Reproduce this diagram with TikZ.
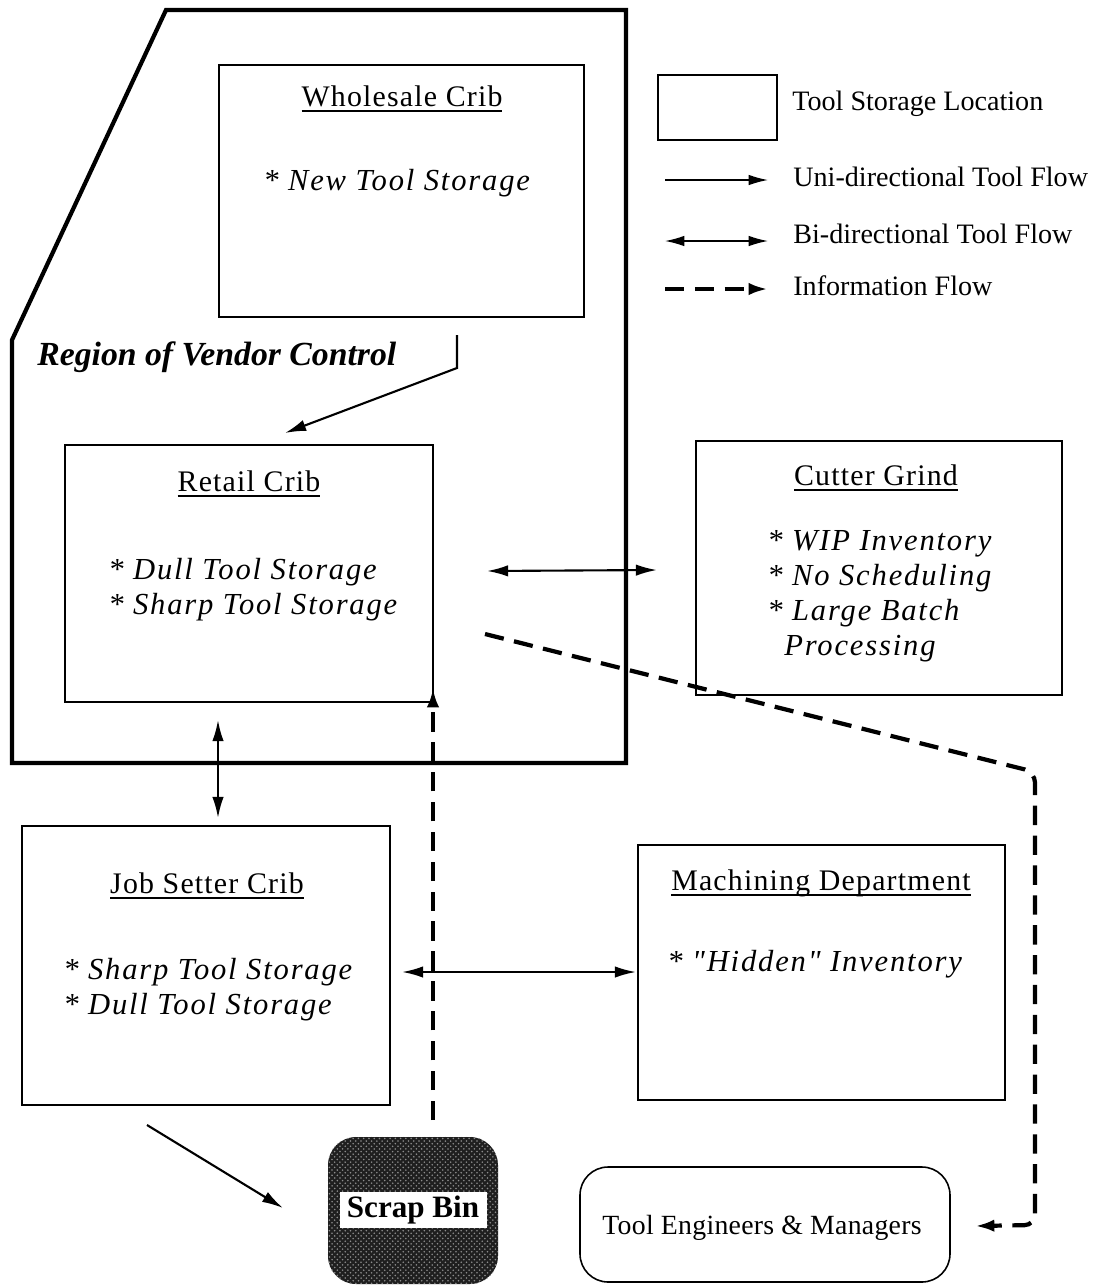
\documentclass[tikz,border=0pt]{standalone}
\usepackage{fontspec}
\setmainfont{Liberation Serif}
\newfontfamily\headfont[LetterSpace=4]{Liberation Serif}
\newfontfamily\itemfont[LetterSpace=6]{Liberation Serif}
\usetikzlibrary{arrows.meta,fit,patterns}
% heading with a heavier underline
\newcommand\hul[1]{\setbox0\hbox{#1}\rlap{\rule[-3.2pt]{\wd0}{0.9pt}}\box0}

\begin{document}
\begin{tikzpicture}[x=0.02cm,y=-0.02cm,
  crib/.style={draw, line width=0.9pt, inner sep=0pt},
  head/.style={font=\headfont\fontsize{17}{20}\selectfont, inner sep=0pt, anchor=base},
  item/.style={font=\itemfont\itshape\fontsize{17.4}{20}\selectfont, inner sep=0pt, anchor=base west},
  legtext/.style={font=\fontsize{16}{19}\selectfont, inner sep=0pt, anchor=base west},
  flow/.style={line width=1.2pt, -{Latex[length=12pt,width=6.5pt]}},
  biflow/.style={line width=1.2pt, {Latex[length=12pt,width=6.5pt]}-{Latex[length=12pt,width=6.5pt]}},
  info/.style={line width=2.4pt, dash pattern=on 11pt off 6pt, -{Latex[length=11pt,width=7pt]}},
]
\path[fill=white, use as bounding box] (0,0) rectangle (1104,1286);

% region of vendor control
\draw[line width=2.4pt, line join=miter] (166,10) -- (626,10) -- (626,763) -- (12,763) -- (12,340) -- cycle;
\node[font=\bfseries\itshape\fontsize{19.2}{22}\selectfont, inner sep=0pt, anchor=base west] (region) at (37,365) {Region of Vendor Control};

% tool storage locations
\node[crib, fit={(219,65)(584,317)}] (whole) {};
\node[head] (wholeT) at (402,106) {\hul{Wholesale Crib}};
\node[item] (wholeI) at (263,190) {* New Tool Storage};

\node[crib, fit={(65,445)(433,702)}] (retail) {};
\node[head] (retailT) at (249,491) {\hul{Retail Crib}};
\node[item] (retailI1) at (108,579) {* Dull Tool Storage};
\node[item] (retailI2) at (108,614) {* Sharp Tool Storage};

\node[crib, fit={(696,441)(1062,695)}] (cutter) {};
\node[head] (cutterT) at (876,485) {\hul{Cutter Grind}};
\node[item] (cutterI1) at (767,550) {* WIP Inventory};
\node[item] (cutterI2) at (767,585) {* No Scheduling};
\node[item] (cutterI3) at (767,620) {* Large Batch};
\node[item] (cutterI4) at (784,655) {Processing};

\node[crib, fit={(22,826)(390,1105)}] (jobset) {};
\node[head] (jobsetT) at (207,893) {\hul{Job Setter Crib}};
\node[item] (jobsetI1) at (63,979) {* Sharp Tool Storage};
\node[item] (jobsetI2) at (63,1014) {* Dull Tool Storage};

\node[crib, fit={(638,845)(1005,1100)}] (machine) {};
\node[head] (machineT) at (821,890) {\hul{Machining Department}};
\node[item] (machineI) at (667,971) {* "Hidden" Inventory};

% scrap bin: dark speckled rounded block with a white label
\node[fill=black!88, rounded corners=16pt, fit={(328,1137)(498,1284)}, inner sep=0pt] (scrap) {};
\path[pattern=crosshatch dots, pattern color=black!45, rounded corners=16pt] (scrap.north west) rectangle (scrap.south east);
\node[fill=white, inner sep=0pt, minimum width=147*0.02cm, minimum height=36*0.02cm,
      font=\bfseries\fontsize{17.7}{20}\selectfont] (scrapT) at (413,1210) {Scrap Bin};

% tool engineers
\node[draw, line width=0.9pt, rounded corners=16pt, fit={(580,1167)(950,1282)}, inner sep=0pt] (eng) {};
\node[font=\addfontfeatures{LetterSpace=1}\fontsize{15.8}{18}\selectfont, inner sep=0pt, anchor=base] (engT) at (762,1234) {Tool Engineers \& Managers};

% connector end points
\coordinate (wsOut) at (457,335);
\coordinate (wsBend) at (457,368);
\coordinate (rtIn) at (285,433);
\coordinate (rcL) at (487,571);
\coordinate (rcR) at (657,570);
\coordinate (rjT) at (218,720);
\coordinate (rjB) at (218,818);
\coordinate (jmL) at (402,972);
\coordinate (jmR) at (636,972);
\coordinate (jsA) at (147,1125);
\coordinate (jsB) at (283,1208);
\coordinate (srA) at (433,1120);
\coordinate (srB) at (433,688);
\coordinate (ifA) at (485,634);
\coordinate (ifC) at (1035,772);
\coordinate (ifD) at (1035,1225);
\coordinate (ifE) at (975,1226);

% tool flows
\draw[flow] (wsOut) -- (wsBend) -- (rtIn);
\draw[biflow] (rcL) -- (rcR);
\draw[biflow] (rjT) -- (rjB);
\draw[biflow] (jmL) -- (jmR);
\draw[flow] (jsA) -- (jsB);

% information flows
\draw[info] (srA) -- (srB);
\draw[info, rounded corners=6pt] (ifA) -- (ifC) -- (ifD) -- (ifE);

% legend
\node[draw, line width=0.8pt, fit={(658,75)(777,140)}, inner sep=0pt] (legBox) {};
\node[legtext] (legBoxT) at (792,110) {Tool Storage Location};
\coordinate (legUa) at (665,180); \coordinate (legUb) at (768,180);
\coordinate (legBa) at (665,241); \coordinate (legBb) at (768,241);
\coordinate (legIa) at (665,289); \coordinate (legIb) at (768,289);
\draw[line width=0.8pt, -{Latex[length=11pt,width=6pt]}] (legUa) -- (legUb);
\draw[line width=0.8pt, {Latex[length=11pt,width=6pt]}-{Latex[length=11pt,width=6pt]}] (legBa) -- (legBb);
\draw[info] (legIa) -- (legIb);
\node[legtext] (legUT) at (793,186) {Uni-directional Tool Flow};
\node[legtext] (legBT) at (793,243) {Bi-directional Tool Flow};
\node[legtext] (legIT) at (793,295) {Information Flow};
\end{tikzpicture}
\end{document}
